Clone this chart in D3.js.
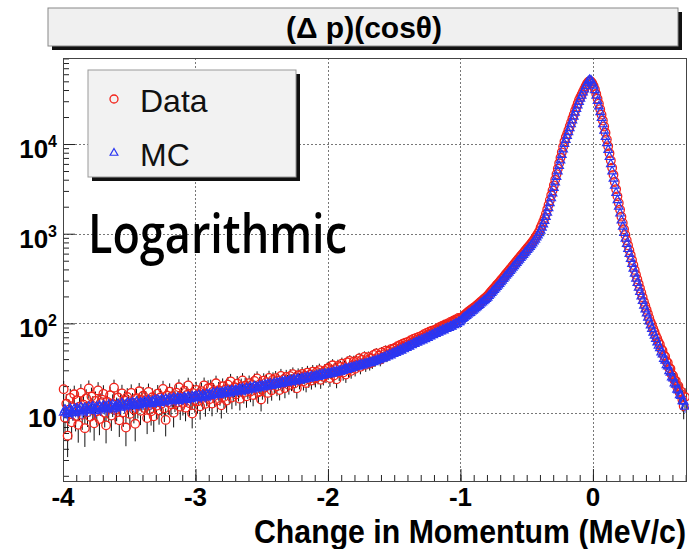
<!DOCTYPE html>
<html>
<head>
<meta charset="utf-8">
<script src="https://cdn.jsdelivr.net/npm/d3@7"></script>
<style>
  body { margin: 0; background: #fff; }
  svg { display: block; }
</style>
</head>
<body>
<svg id="chart" width="689" height="549"></svg>
<script>
// Histogram binning (MeV/c)
const histLow = -4.0;
const histHigh = 0.71;
const binWidth = 0.01;

// Simulated momentum change, one value per 0.01 MeV/c bin, rows of 0.1 MeV/c
const mcCounts = [
  10.1, 10.9, 10.3, 9.8, 10.7, 11.2, 10.4, 10.0, 11.1, 10.6,
  11.3, 10.5, 10.9, 11.6, 10.2, 11.0, 11.4, 10.7, 10.9, 11.8,
  10.8, 11.5, 11.9, 11.1, 10.6, 11.7, 11.3, 12.1, 11.0, 11.4,
  12.2, 11.3, 11.8, 11.0, 12.4, 11.6, 11.9, 12.5, 11.2, 11.8,
  11.7, 12.6, 12.1, 11.5, 12.9, 12.3, 11.8, 12.4, 13.0, 12.2,
  12.8, 12.1, 13.2, 12.6, 12.0, 13.4, 12.7, 12.3, 13.1, 12.9,
  12.6, 13.5, 13.1, 12.8, 13.9, 13.2, 12.7, 13.6, 13.3, 14.0,
  13.1, 14.1, 13.6, 13.0, 14.3, 13.8, 13.4, 14.4, 13.7, 13.9,
  14.5, 13.6, 14.2, 14.8, 13.9, 14.1, 14.9, 13.7, 14.6, 14.3,
  14.2, 15.1, 14.6, 14.0, 15.3, 14.8, 14.4, 15.4, 14.9, 15.2,
  15.5, 14.7, 15.9, 15.2, 14.9, 16.1, 15.4, 15.0, 16.3, 15.7,
  16.4, 15.5, 16.1, 16.9, 15.8, 16.6, 17.2, 16.0, 16.8, 16.5,
  17.1, 16.4, 17.5, 16.9, 17.8, 16.6, 17.3, 18.0, 17.0, 17.6,
  18.2, 17.3, 17.9, 18.6, 17.5, 18.9, 18.1, 17.8, 19.0, 18.3,
  18.9, 19.6, 18.4, 19.2, 20.0, 18.8, 19.5, 19.1, 20.2, 19.4,
  20.3, 19.4, 20.7, 19.9, 21.0, 20.4, 21.3, 20.1, 20.9, 21.5,
  20.6, 21.8, 21.2, 22.0, 21.0, 22.4, 21.6, 22.8, 21.9, 22.3,
  22.7, 23.4, 22.1, 23.1, 23.9, 22.6, 23.6, 24.2, 23.0, 23.8,
  24.5, 23.6, 24.9, 24.1, 25.3, 24.4, 25.0, 25.8, 24.6, 25.5,
  25.6, 26.4, 25.3, 26.8, 26.0, 27.1, 26.3, 27.5, 26.6, 27.2,
  27.8, 27.1, 28.3, 27.6, 28.9, 28.1, 29.2, 28.5, 29.6, 29.0,
  30.1, 29.6, 30.8, 31.2, 30.4, 31.7, 31.1, 32.3, 31.6, 32.8,
  32.6, 33.5, 33.0, 34.2, 33.7, 34.8, 34.1, 35.3, 35.0, 36.0,
  35.8, 36.7, 36.3, 37.5, 37.0, 38.2, 38.0, 39.1, 38.8, 40.0,
  40.8, 40.6, 42.0, 41.5, 43.6, 42.9, 44.8, 44.1, 45.9, 45.7,
  47.4, 46.8, 48.9, 48.3, 50.6, 49.8, 52.4, 51.5, 53.9, 53.3,
  55.8, 55.0, 57.6, 57.1, 59.5, 58.9, 61.6, 60.9, 63.5, 62.8,
  65.3, 64.6, 67.5, 66.9, 69.8, 69.1, 72.2, 71.4, 74.6, 73.9,
  77.3, 76.5, 79.4, 79.0, 81.9, 81.2, 84.5, 83.8, 87.1, 86.6,
  89.7, 89.0, 92.8, 92.1, 96.0, 95.4, 99.6, 99.0, 103.5, 103.0,
  108, 112, 115, 119, 121, 125, 129, 131, 136, 139,
  143, 148, 152, 157, 161, 167, 171, 177, 182, 188,
  194, 202, 210, 219, 227, 236, 246, 256, 266, 276,
  288, 300, 313, 326, 340, 354, 369, 385, 401, 418,
  436, 454, 473, 493, 514, 536, 558, 582, 607, 632,
  658, 684, 713, 745, 780, 818, 861, 908, 959, 1016,
  1084, 1167, 1268, 1390, 1538, 1718, 1932, 2188, 2483, 2818,
  3236, 3733, 4305, 4955, 5702, 6561, 7551, 8690, 10000, 11092,
  12300, 13580, 15000, 16600, 18320, 20230, 22390, 24550, 26920, 29510,
  31990, 34670, 37580, 40740, 44160, 47320, 50120, 51880, 51290, 48420,
  44670, 39810, 34670, 30200, 26300, 22650, 19500, 16600, 14130, 12020,
  10230, 8610, 7160, 5960, 4950, 4120, 3430, 2850, 2370, 2000,
  1680, 1410, 1200, 1020, 880, 770, 675, 595, 525, 462,
  407, 359, 316, 282, 251, 224, 200, 178, 158, 143,
  129, 116, 105, 95, 87, 79, 73, 67, 61.5, 56.6,
  52.9, 47.5, 45.1, 40.3, 38.4, 34.2, 33.1, 29.3, 28.2, 25.0,
  24.3, 21.4, 20.8, 18.3, 17.9, 15.8, 15.5, 13.6, 13.4, 11.8
];

// Measured momentum change, same binning
const dataCounts = [
  18.5, 8.9, 12.7, 5.6, 10.9, 14.8, 7.9, 11.6, 16.2, 9.3,
  13.9, 7.4, 11.8, 16.9, 9.6, 12.4, 6.8, 14.6, 10.2, 18.8,
  9.1, 15.3, 12.0, 7.7, 13.7, 10.5, 17.9, 8.6, 12.9, 14.1,
  16.4, 10.1, 7.3, 13.3, 11.2, 15.8, 9.4, 12.6, 19.2, 10.8,
  11.5, 14.9, 8.3, 12.9, 16.6, 10.2, 13.8, 6.9, 15.1, 12.4,
  9.8, 16.8, 13.1, 11.0, 7.6, 14.7, 12.2, 17.5, 10.6, 13.9,
  15.6, 11.4, 13.9, 8.8, 17.2, 12.3, 10.5, 15.0, 9.2, 14.4,
  12.1, 16.5, 10.7, 14.9, 12.8, 18.6, 11.3, 8.4, 15.7, 13.2,
  17.3, 12.6, 15.4, 10.1, 14.0, 16.9, 13.1, 19.4, 11.8, 15.2,
  13.0, 17.8, 11.5, 15.9, 20.3, 12.9, 14.6, 9.9, 16.7, 13.8,
  18.1, 13.5, 16.2, 11.9, 17.6, 14.8, 20.4, 12.7, 15.9, 18.9,
  14.3, 19.2, 12.8, 17.4, 15.6, 21.5, 13.9, 18.0, 16.1, 12.2,
  19.9, 15.2, 18.3, 13.8, 20.7, 16.6, 22.6, 14.9, 17.8, 19.4,
  16.1, 21.3, 17.7, 14.5, 19.8, 23.1, 16.9, 20.2, 15.4, 18.7,
  21.6, 17.4, 20.5, 15.9, 22.8, 18.6, 24.3, 17.1, 20.9, 14.2,
  18.4, 23.0, 19.6, 22.1, 16.8, 24.7, 20.3, 18.0, 23.6, 21.2,
  24.5, 19.9, 22.8, 18.1, 26.0, 21.3, 23.7, 19.0, 25.3, 22.0,
  20.6, 25.8, 22.3, 27.1, 21.4, 24.6, 18.9, 26.4, 23.2, 25.0,
  27.4, 22.6, 25.9, 21.7, 28.3, 24.0, 26.8, 23.1, 29.0, 25.5,
  24.3, 28.7, 26.0, 30.1, 23.5, 27.9, 25.4, 29.6, 26.8, 31.2,
  31.9, 24.6, 29.5, 34.1, 26.2, 30.9, 23.8, 33.6, 28.1, 32.7,
  35.6, 28.3, 32.5, 26.9, 36.8, 30.4, 38.1, 29.6, 34.0, 37.5,
  31.2, 37.9, 35.1, 40.6, 32.8, 39.2, 36.0, 42.3, 34.7, 38.9,
  42.1, 35.8, 40.8, 37.2, 44.6, 38.9, 46.2, 41.0, 43.7, 39.5,
  47.5, 41.8, 45.3, 49.7, 43.6, 48.9, 45.8, 51.6, 47.2, 52.4,
  53.2, 49.1, 55.8, 51.6, 57.4, 53.9, 59.5, 55.1, 61.0, 57.6,
  62.3, 58.0, 64.9, 61.2, 67.0, 63.1, 68.8, 65.9, 70.7, 67.4,
  72.6, 69.0, 75.9, 71.8, 78.2, 74.9, 80.6, 77.5, 83.1, 79.8,
  84.6, 81.9, 87.8, 85.3, 91.2, 88.0, 94.5, 91.9, 97.4, 95.8,
  99.9, 97.6, 103.9, 101.6, 107.3, 105.2, 111.0, 109.3, 115.0, 113.6,
  115, 118, 122, 126, 129, 133, 137, 140, 144, 148,
  151, 155, 160, 165, 170, 175, 180, 186, 191, 197,
  204, 212, 221, 230, 239, 248, 258, 269, 279, 290,
  302, 315, 328, 342, 357, 372, 387, 404, 421, 439,
  457, 477, 497, 518, 540, 563, 586, 611, 637, 664,
  691, 718, 749, 782, 819, 859, 904, 953, 1007, 1067,
  1170, 1260, 1370, 1500, 1660, 1860, 2090, 2360, 2680, 3040,
  3460, 3990, 4610, 5300, 6100, 7020, 8080, 9300, 10700, 11870,
  12900, 14260, 15750, 17430, 19240, 21240, 23510, 25780, 28270, 30990,
  33270, 35710, 38330, 41140, 44160, 46850, 49120, 50320, 49750, 47450,
  44220, 40600, 36050, 32010, 28140, 24470, 21260, 18260, 15680, 13340,
  11250, 9470, 7880, 6560, 5450, 4530, 3770, 3140, 2610, 2200,
  1850, 1550, 1320, 1120, 968, 847, 743, 655, 578, 508,
  448, 395, 348, 310, 276, 246, 220, 196, 174, 157,
  142, 128, 115, 104, 96, 87, 80, 73, 68, 62,
  58.1, 52.0, 49.8, 44.1, 42.7, 37.6, 36.4, 31.8, 31.2, 27.0,
  26.1, 23.2, 22.9, 19.7, 20.1, 16.9, 17.4, 14.2, 12.0, 15.1
];

// Statistical weight of each sample: error = sqrt(content * weight)
const dataWeight = 1.0;
const mcWeight = 0.25;

const xTickValues = [-4, -3, -2, -1, 0];
const yDecades = [10, 100, 1000, 10000];
const yDomain = [1.75, 91000];

const titleText = "(\u0394 p)(cos\u03b8)";
const xAxisTitle = "Change in Momentum (MeV/c)";
const legendLabels = ["Data", "MC"];
const annotationText = "Logarithmic";

const dataColor = "#f2231a";
const mcColor = "#2b36f2";

// ---------------------------------------------------------------
const svg = d3.select("#chart");
const frame = { left: 63, right: 687, top: 58, bottom: 481 };

const x = d3.scaleLinear().domain([histLow, histHigh]).range([frame.left, frame.right]);
const y = d3.scaleLog().domain(yDomain).range([frame.bottom, frame.top]);

const binCenter = i => histLow + (i + 0.5) * binWidth;
const labelFont = "Liberation Sans, Arial, sans-serif";

// Title box with drop shadow
const title = svg.append("g");
title.append("rect").attr("x", 52).attr("y", 12).attr("width", 630).attr("height", 38).attr("fill", "#111");
title.append("rect").attr("x", 48).attr("y", 8).attr("width", 630).attr("height", 38)
  .attr("fill", "#f0f0f0").attr("stroke", "#888").attr("stroke-width", 1);
title.append("text").attr("x", 364).attr("y", 38)
  .attr("text-anchor", "middle")
  .attr("font-family", labelFont)
  .attr("font-weight", "bold").attr("font-size", 30)
  .text(titleText);

// Plot area
svg.append("rect").attr("x", frame.left).attr("y", frame.top)
  .attr("width", frame.right - frame.left).attr("height", frame.bottom - frame.top)
  .attr("fill", "#fff");

// Dotted grid
const grid = svg.append("g").attr("stroke", "#777").attr("stroke-width", 1)
  .attr("stroke-dasharray", "2,2");
grid.selectAll("line.gx").data(xTickValues.filter(v => v > histLow)).join("line")
  .attr("x1", d => Math.round(x(d)) + 0.5).attr("x2", d => Math.round(x(d)) + 0.5)
  .attr("y1", frame.top).attr("y2", frame.bottom);
grid.selectAll("line.gy").data(yDecades).join("line")
  .attr("y1", d => Math.round(y(d)) + 0.5).attr("y2", d => Math.round(y(d)) + 0.5)
  .attr("x1", frame.left).attr("x2", frame.right);

// Axes: ticks drawn inward
const minorX = d3.range(-40, 8).map(k => k / 10).filter(v => v >= histLow && v <= histHigh);
const axisX = svg.append("g").attr("transform", `translate(0,${frame.bottom})`);
axisX.call(d3.axisBottom(x).tickValues(minorX).tickSize(-6).tickFormat(""));
axisX.append("g").call(d3.axisBottom(x).tickValues(xTickValues).tickSize(-12).tickFormat(""));
axisX.selectAll(".domain").remove();

const minorY = [];
[1, 10, 100, 1000, 10000].forEach(dec => {
  for (let m = 2; m <= 9; m++) {
    const v = m * dec;
    if (v >= yDomain[0] && v <= yDomain[1]) minorY.push(v);
  }
});
const axisY = svg.append("g").attr("transform", `translate(${frame.left},0)`);
axisY.call(d3.axisLeft(y).tickValues(minorY).tickSize(-6).tickFormat(""));
axisY.append("g").call(d3.axisLeft(y).tickValues(yDecades).tickSize(-12).tickFormat(""));
axisY.selectAll(".domain").remove();
svg.selectAll(".tick line").attr("stroke", "#222");

// Frame
svg.append("rect").attr("x", frame.left + 0.5).attr("y", frame.top + 0.5)
  .attr("width", frame.right - frame.left - 1).attr("height", frame.bottom - frame.top)
  .attr("fill", "none").attr("stroke", "#444").attr("stroke-width", 1);

// Tick labels
svg.append("g").selectAll("text").data(xTickValues).join("text")
  .attr("x", d => x(d)).attr("y", 506)
  .attr("text-anchor", "middle")
  .attr("font-family", labelFont).attr("font-weight", "bold").attr("font-size", 26)
  .text(d => d3.format("d")(d).replace("\u2212", "-"));

const yLab = svg.append("g").selectAll("text").data(yDecades).join("text")
  .attr("x", 57).attr("y", d => y(d) + 14)
  .attr("text-anchor", "end")
  .attr("font-family", labelFont).attr("font-weight", "bold").attr("font-size", 26);
yLab.each(function(d) {
  const p = Math.round(Math.log10(d));
  const t = d3.select(this);
  t.append("tspan").text("10");
  if (p > 1) {
    t.append("tspan").attr("dy", -11).attr("font-size", 16).text(p);
  }
});

// Axis title
svg.append("text")
  .attr("transform", "translate(686,543) scale(1,1.1)")
  .attr("text-anchor", "end")
  .attr("font-family", labelFont).attr("font-weight", "bold").attr("font-size", 29.5)
  .attr("textLength", 432).attr("lengthAdjust", "spacingAndGlyphs")
  .text(xAxisTitle);

// Marks
const pts = svg.append("g");
const dataPts = dataCounts.map((v, i) => ({ x: binCenter(i), v, e: Math.sqrt(v * dataWeight) }));
const mcPts = mcCounts.map((v, i) => ({ x: binCenter(i), v, e: Math.sqrt(v * mcWeight) }));
const r = 4.3;

function errPath(d, gap) {
  const cx = x(d.x), cy = y(d.v);
  const yHi = y(d.v + d.e), yLo = y(Math.max(d.v - d.e, yDomain[0]));
  let s = "";
  if (cy - yHi > gap) s += `M${cx},${yHi}V${cy - gap}`;
  if (yLo - cy > gap) s += `M${cx},${cy + gap}V${yLo}`;
  return s || null;
}

// error bars for measured points
pts.append("g").attr("stroke", "#111").attr("stroke-width", 1)
  .selectAll("path").data(dataPts).join("path")
  .attr("d", d => errPath(d, r));

pts.append("g").attr("fill", "none").attr("stroke", dataColor).attr("stroke-width", 1.3)
  .selectAll("circle").data(dataPts).join("circle")
  .attr("cx", d => x(d.x)).attr("cy", d => y(d.v)).attr("r", r);

// simulated points with their error bars
pts.append("g").attr("stroke", mcColor).attr("stroke-width", 1)
  .selectAll("path").data(mcPts).join("path")
  .attr("d", d => errPath(d, 3));

const tri = d3.symbol().type(d3.symbolTriangle).size(32);
pts.append("g").attr("fill", "none").attr("stroke", mcColor).attr("stroke-width", 1.2)
  .selectAll("path").data(mcPts).join("path")
  .attr("transform", d => `translate(${x(d.x)},${y(d.v)})`)
  .attr("d", tri);

// Legend with drop shadow
const leg = svg.append("g");
leg.append("rect").attr("x", 92).attr("y", 74).attr("width", 208).attr("height", 107).attr("fill", "#111");
leg.append("rect").attr("x", 88).attr("y", 70).attr("width", 208).attr("height", 107)
  .attr("fill", "#f2f2f2").attr("stroke", "#999").attr("stroke-width", 1);
leg.append("circle").attr("cx", 114).attr("cy", 99).attr("r", 4)
  .attr("fill", "none").attr("stroke", dataColor).attr("stroke-width", 1.3);
leg.append("path").attr("transform", "translate(114,153)").attr("d", d3.symbol().type(d3.symbolTriangle).size(26))
  .attr("fill", "none").attr("stroke", mcColor).attr("stroke-width", 1.2);
leg.selectAll("text.lbl").data(legendLabels).join("text")
  .attr("x", 140).attr("y", (d, i) => 112 + i * 54)
  .attr("font-family", labelFont).attr("font-size", 32).attr("fill", "#111")
  .text(d => d);

// Annotation
svg.append("text").attr("x", 88).attr("y", 253)
  .attr("font-family", "Open Sans, Noto Sans, sans-serif").attr("font-size", 54)
  .attr("font-weight", 600)
  .attr("textLength", 259).attr("lengthAdjust", "spacingAndGlyphs")
  .attr("fill", "#000")
  .text(annotationText);
</script>
</body>
</html>
